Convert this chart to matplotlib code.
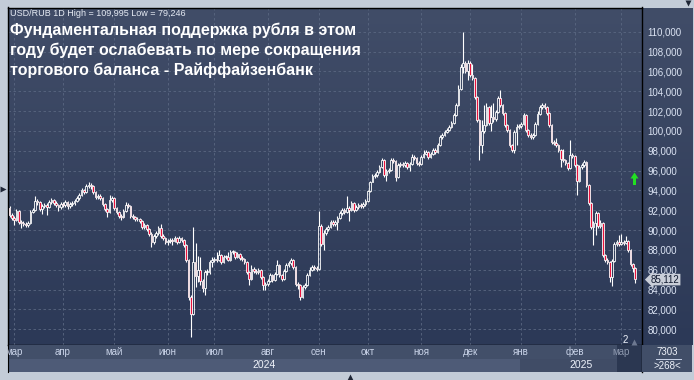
import numpy as np
import pandas as pd
import matplotlib
matplotlib.use("Agg")
import matplotlib.pyplot as plt
from matplotlib.colors import to_rgb
from matplotlib.transforms import blended_transform_factory

plt.rcParams["font.family"] = ["Liberation Sans", "DejaVu Sans"]

# USD/RUB daily candles, 28.02.2024 - 11.03.2025
first_open = 92.2
close = [
    91.5, 91.2, 91.0, 91.9, 90.8, 90.7, 90.6, 90.5, 90.7, 91.8,
    92.0, 92.9, 92.8, 92.1, 92.4, 92.5, 92.3, 92.8, 93.0, 92.7,
    92.5, 92.3, 92.6, 92.5, 92.8, 92.4, 92.6, 92.7, 92.9, 93.2,
    93.5, 94.0, 93.8, 94.4, 94.5, 94.4, 93.8, 93.3, 93.4, 93.2,
    92.6, 92.1, 91.8, 93.0, 93.2, 92.2, 91.8, 91.4, 91.3, 91.9,
    92.5, 92.4, 91.4, 91.3, 91.1, 91.1, 90.9, 90.3, 90.5, 90.1,
    89.6, 88.8, 89.4, 89.7, 90.2, 89.4, 89.2, 88.8, 88.9, 89.0,
    88.9, 89.2, 88.8, 89.2, 89.0, 88.5, 87.0, 83.3, 81.5, 86.8,
    85.4, 86.0, 84.9, 84.2, 85.8, 85.8, 86.8, 87.0, 87.1, 87.0,
    87.5, 86.8, 87.3, 87.3, 87.0, 87.8, 87.8, 87.3, 87.6, 87.2,
    87.1, 86.8, 85.8, 85.1, 86.1, 85.9, 85.8, 86.0, 85.3, 84.5,
    84.6, 84.9, 85.5, 85.0, 85.6, 86.5, 85.5, 85.1, 85.9, 86.5,
    86.7, 87.0, 86.3, 84.6, 84.5, 83.3, 84.3, 84.5, 85.5, 86.0,
    86.3, 86.2, 86.1, 90.4, 88.6, 89.7, 90.1, 90.3, 90.8, 90.6,
    90.8, 91.2, 91.7, 92.0, 91.8, 92.2, 92.0, 92.7, 92.0, 92.3,
    92.5, 92.4, 92.6, 92.9, 93.9, 94.9, 95.5, 95.6, 95.9, 96.4,
    97.1, 95.6, 96.0, 96.1, 97.1, 97.0, 95.4, 96.6, 96.7, 96.6,
    96.8, 96.4, 96.7, 97.4, 97.3, 96.8, 96.7, 97.4, 97.7, 97.9,
    97.4, 97.7, 98.1, 97.9, 98.6, 99.4, 99.6, 99.9, 100.1, 100.4,
    100.8, 101.6, 102.6, 104.2, 106.4, 106.8, 106.0, 106.8, 105.6, 105.3,
    103.4, 101.1, 98.6, 100.0, 100.6, 102.4, 100.8, 101.4, 101.2, 101.9,
    103.3, 102.6, 101.8, 100.6, 100.1, 98.6, 98.1, 99.9, 100.4, 100.5,
    100.7, 101.6, 100.1, 99.6, 99.4, 99.6, 100.7, 101.7, 102.4, 102.6,
    102.4, 101.8, 100.6, 98.9, 98.8, 98.6, 98.1, 97.2, 97.1, 96.8,
    96.3, 97.6, 97.5, 96.6, 95.0, 96.4, 96.6, 96.9, 94.5, 92.7,
    90.3, 90.7, 91.7, 90.4, 90.7, 87.5, 87.0, 86.8, 85.3, 86.9,
    88.6, 88.8, 88.6, 88.8, 88.7, 88.9, 88.0, 86.6, 86.2, 85.112,
]
high = [
    92.4, 91.7, 91.4, 92.1, 92.0, 91.0, 90.9, 90.8, 90.9, 92.0,
    92.2, 93.4, 93.1, 92.9, 92.6, 92.7, 92.7, 93.0, 93.2, 93.1,
    92.9, 92.6, 92.8, 92.8, 93.0, 92.9, 92.8, 92.9, 93.1, 93.4,
    93.7, 94.2, 94.1, 94.6, 94.8, 94.7, 94.5, 93.9, 93.6, 93.6,
    93.3, 92.7, 92.2, 93.5, 93.4, 93.3, 92.3, 91.9, 91.6, 92.1,
    92.8, 92.7, 92.5, 91.6, 91.4, 91.3, 91.2, 91.0, 90.7, 90.6,
    90.2, 89.8, 89.6, 89.9, 90.4, 90.6, 89.6, 89.3, 89.1, 89.2,
    89.2, 89.4, 89.3, 89.4, 89.3, 89.1, 88.6, 87.1, 83.5, 90.3,
    88.7, 87.4, 87.3, 85.1, 86.0, 86.1, 87.0, 87.3, 87.3, 87.8,
    88.0, 87.6, 87.5, 87.5, 87.8, 88.0, 88.0, 87.9, 87.8, 87.7,
    87.4, 87.2, 86.9, 85.9, 86.5, 86.3, 86.1, 86.2, 86.1, 85.4,
    84.8, 85.1, 85.7, 85.6, 85.8, 87.0, 86.6, 85.6, 86.1, 86.7,
    86.9, 87.2, 87.1, 86.4, 84.8, 84.6, 84.5, 84.7, 85.7, 86.3,
    86.5, 86.5, 86.4, 91.9, 90.6, 90.0, 90.3, 90.5, 91.0, 91.0,
    91.0, 91.4, 91.9, 92.2, 92.2, 93.4, 92.4, 92.9, 92.8, 92.5,
    92.7, 92.7, 92.8, 93.1, 94.0, 95.0, 95.7, 95.8, 96.1, 96.6,
    97.3, 97.2, 96.2, 96.3, 97.3, 97.3, 97.1, 96.8, 96.9, 96.9,
    97.0, 96.9, 96.9, 97.7, 97.6, 97.4, 97.0, 97.6, 98.1, 98.1,
    98.0, 97.9, 98.3, 98.3, 98.8, 99.6, 99.8, 100.1, 100.3, 100.6,
    101.0, 101.8, 102.8, 104.6, 106.7, 109.995, 107.0, 107.1, 107.0, 106.7,
    105.4, 103.5, 101.2, 101.1, 102.6, 102.8, 102.5, 102.6, 102.8, 102.1,
    103.5, 104.1, 102.7, 101.9, 100.7, 100.2, 98.7, 100.1, 100.7, 100.7,
    100.9, 101.8, 101.7, 100.2, 99.8, 99.8, 100.9, 102.0, 102.6, 102.8,
    102.8, 102.5, 101.9, 100.7, 99.1, 99.3, 98.7, 98.2, 98.2, 97.2,
    96.9, 99.1, 97.8, 97.6, 96.7, 96.6, 96.8, 97.1, 97.0, 94.6,
    92.8, 90.9, 91.9, 91.8, 91.0, 90.8, 87.6, 87.2, 86.9, 87.1,
    88.8, 89.0, 89.5, 89.6, 89.0, 89.4, 89.0, 88.1, 86.7, 86.3,
]
low = [
    91.3, 91.0, 90.5, 90.9, 90.6, 90.2, 90.4, 90.3, 90.3, 90.6,
    91.7, 91.9, 92.5, 91.9, 91.6, 92.2, 91.5, 92.2, 92.6, 92.5,
    92.3, 91.9, 92.1, 92.3, 92.3, 92.1, 92.2, 92.4, 92.5, 92.8,
    93.0, 93.4, 93.6, 93.7, 94.2, 94.1, 93.6, 93.1, 93.1, 93.0,
    92.4, 91.9, 91.3, 91.7, 92.8, 92.0, 91.6, 91.2, 91.0, 91.2,
    91.8, 92.2, 91.2, 91.1, 90.9, 90.9, 90.7, 90.1, 90.1, 89.9,
    89.4, 88.3, 88.6, 89.2, 89.5, 89.2, 89.0, 88.6, 88.5, 88.7,
    88.5, 88.8, 88.6, 88.7, 88.8, 88.3, 86.8, 83.0, 79.246, 81.4,
    84.3, 84.8, 84.5, 83.8, 83.5, 85.5, 85.6, 86.3, 86.8, 86.8,
    86.9, 86.6, 86.7, 87.1, 86.9, 86.9, 87.6, 87.1, 87.2, 87.0,
    86.9, 86.6, 85.6, 84.5, 85.0, 85.7, 85.6, 85.6, 85.1, 84.0,
    84.0, 84.4, 84.8, 84.8, 84.9, 85.5, 85.3, 84.9, 85.0, 85.8,
    86.3, 86.5, 86.1, 84.4, 84.1, 83.0, 83.2, 84.1, 84.4, 85.4,
    85.9, 86.0, 85.9, 86.0, 88.4, 88.0, 89.5, 89.9, 90.2, 90.4,
    90.4, 90.0, 91.1, 91.5, 91.6, 91.7, 90.9, 91.9, 91.8, 91.9,
    92.1, 92.2, 92.2, 92.4, 92.8, 93.8, 94.8, 95.3, 95.4, 95.8,
    96.3, 95.4, 95.0, 95.8, 96.0, 96.8, 95.0, 95.3, 96.4, 96.4,
    96.4, 96.2, 96.0, 96.6, 97.1, 96.6, 96.5, 96.6, 97.3, 97.6,
    97.2, 97.3, 97.6, 97.7, 97.8, 98.5, 99.2, 99.5, 99.8, 100.0,
    100.3, 100.7, 101.5, 102.5, 104.1, 105.8, 105.8, 105.1, 105.4, 105.1,
    103.2, 100.9, 97.1, 97.8, 99.8, 100.5, 100.6, 100.0, 100.9, 101.0,
    101.8, 102.4, 101.6, 100.4, 99.9, 98.4, 97.9, 97.8, 98.6, 100.2,
    100.3, 100.6, 99.9, 99.4, 99.2, 99.2, 99.5, 100.6, 101.6, 102.2,
    102.2, 101.6, 100.4, 98.7, 98.6, 98.4, 97.9, 96.4, 96.9, 96.6,
    96.1, 96.2, 97.3, 96.4, 93.5, 94.9, 96.2, 96.4, 94.3, 92.5,
    90.1, 88.5, 89.5, 90.2, 90.2, 87.3, 86.8, 86.6, 84.8, 84.4,
    86.8, 88.4, 88.4, 88.5, 88.5, 88.6, 87.8, 86.4, 85.8, 84.7,
]
dates = pd.bdate_range("2024-02-28", "2025-03-11")
month_names = ["янв", "фев", "мар", "апр", "май", "июн",
               "июл", "авг", "сен", "окт", "ноя", "дек"]
y_ticks = np.arange(80, 111, 2)
title = ("Фундаментальная поддержка рубля в этом\n"
         "году будет ослабевать по мере сокращения\n"
         "торгового баланса - Райффайзенбанк")
header = "USD/RUB 1D High = 109,995 Low = 79,246"

W, H = 694, 380
fig = plt.figure(figsize=(W / 100, H / 100), dpi=100, facecolor="#c3ccd8")


def box(x0, y0, x1, y1):
    # pixel box (top-left origin) -> figure fraction rect
    return [x0 / W, 1 - y1 / H, (x1 - x0) / W, (y1 - y0) / H]


# gradient background behind plot and price scale
bg = fig.add_axes(box(7.5, 7.5, 692, 345))
c_top, c_bot = np.array(to_rgb("#414d68")), np.array(to_rgb("#2c3957"))
t = np.linspace(0, 1, 256)[:, None, None]
bg.imshow(c_top * (1 - t) + c_bot * t, aspect="auto", extent=[0, 1, 0, 1])
bg.axis("off")

ax = fig.add_axes(box(7.5, 7.5, 642, 345))
ax.set_facecolor("none")

o = np.array([first_open] + close[:-1])
c = np.array(close)
h = np.array(high)
l = np.array(low)
x = np.arange(len(c))
up = c >= o
body_lo = np.minimum(o, c)
body_hi = np.maximum(o, c)
body_h = np.maximum(body_hi - body_lo, 0.06)

ax.vlines(x, body_hi, h, color="white", lw=0.8, zorder=3)
ax.vlines(x, l, body_lo, color="white", lw=0.8, zorder=3)
ax.bar(x[up], body_h[up], bottom=body_lo[up], width=0.72,
       facecolor="none", edgecolor="white", linewidth=0.6, zorder=4)
ax.bar(x[~up], body_h[~up], bottom=body_lo[~up], width=0.72,
       facecolor="#e8123c", edgecolor="white", linewidth=0.6, zorder=4)

x0, x1 = -0.86, 271.9
ax.set_xlim(x0, x1)
ax.set_ylim(78.42, 112.44)

month_starts = [i for i in range(1, len(dates)) if dates[i].month != dates[i - 1].month]
ax.set_xticks(month_starts)
ax.set_yticks(y_ticks)
ax.set_yticklabels([f"{v:.3f}".replace(".", ",") for v in y_ticks])
ax.yaxis.tick_right()
ax.tick_params(axis="y", length=0, pad=4, labelsize=7, labelcolor="#dbe3f3")
ax.tick_params(axis="x", length=0, labelbottom=False)
ax.grid(True, color="#5a6781", linestyle=(0, (3, 3)), linewidth=0.6)
ax.set_axisbelow(True)
for s in ax.spines.values():
    s.set_color("black")
    s.set_linewidth(1)

# current price tag
tr = blended_transform_factory(ax.transAxes, ax.transData)
ax.text(1.014, close[-1] - 0.1, f"{close[-1]:.3f}".replace(".", ","), transform=tr,
        ha="left", va="center", fontsize=7, color="#101a30",
        bbox=dict(boxstyle="larrow,pad=0.08", fc="#c9ced8", ec="none"),
        clip_on=False, zorder=6)

# header and title
fig.text(10 / W, 1 - 9.5 / H, header, ha="left", va="top", fontsize=6.5, color="#e6ebf4")
fig.text(10 / W, 1 - 23 / H, title, ha="left", va="top", fontsize=11.5,
         fontweight="bold", color="white", linespacing=1.3)

# bottom time scale
axb = fig.add_axes(box(7.5, 345, 642, 372))
axb.set_xlim(x0, x1)
axb.set_ylim(0, 2)
first_2025 = next(i for i in range(len(dates)) if dates[i].year == 2025)
axb.axhspan(1, 2, color="#424f69")
axb.fill_between([x0, first_2025 - 0.5], 0, 1, color="#4e5b77", lw=0)
axb.fill_between([first_2025 - 0.5, x1], 0, 1, color="#404c66", lw=0)
last_month = month_starts[-1]
axb.axvspan(last_month - 1.8, x1, color="#2b3751", lw=0)
for i in month_starts:
    col = "#8d98ae" if i == last_month else "#c9d3e8"
    axb.text(i, 1.5, month_names[dates[i].month - 1], ha="center", va="center",
             fontsize=7, color=col, clip_on=True)
axb.text((x0 + first_2025 - 0.5) / 2, 0.5, "2024", ha="center", va="center",
         fontsize=7.5, color="#eef2fa")
axb.text((first_2025 - 0.5 + x1) / 2, 0.5, "2025", ha="center", va="center",
         fontsize=7.5, color="#eef2fa")
axb.set_xticks([])
axb.set_yticks([])
for s in axb.spines.values():
    s.set_visible(False)
axb.spines["left"].set_visible(True)
axb.spines["left"].set_color("black")
axb.spines["right"].set_visible(True)
axb.spines["right"].set_color("black")
axb.spines["right"].set_linewidth(1)

# bottom-right corner box
axc = fig.add_axes(box(642, 345, 692, 372))
axc.set_facecolor("#414e68")
axc.set_xlim(0, 1)
axc.set_ylim(0, 1)
axc.text(0.5, 0.74, "7303", ha="center", va="center", fontsize=7, color="#eef2fa")
axc.plot([0.28, 0.78], [0.5, 0.5], color="#c9d3e8", lw=0.7)
axc.text(0.5, 0.24, ">268<", ha="center", va="center", fontsize=7, color="#eef2fa")
axc.set_xticks([])
axc.set_yticks([])
for s in axc.spines.values():
    s.set_visible(False)

# overlay for small markers (pixel coordinates, origin top-left)
ov = fig.add_axes([0, 0, 1, 1], facecolor="none")
ov.set_xlim(0, W)
ov.set_ylim(H, 0)
ov.axis("off")
# green up arrow: head + stem
ov.fill([630.5, 638.5, 634.5], [178.5, 178.5, 172.5], color="#22e022", lw=0)
ov.fill([633.4, 635.6, 635.6, 633.4], [178, 178, 185, 185], color="#22e022", lw=0)
ov.text(625, 340, "2", ha="center", va="center", fontsize=7, color="#eef2fa")
ov.plot([634.5], [341.5], marker="^", ms=4, color="#6d7890", mec="none")
ov.plot([688], [3], marker="v", ms=5, color="#1e2636", mec="none")
ov.plot([3], [189], marker=">", ms=5, color="#1e2636", mec="none")
ov.plot([350], [376.5], marker="^", ms=5, color="#1e2636", mec="none")

fig.savefig("out.png", dpi=100, facecolor=fig.get_facecolor())
